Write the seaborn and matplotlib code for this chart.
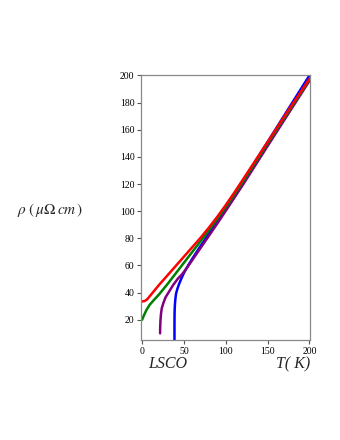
import numpy as np
import pandas as pd
import matplotlib
matplotlib.use("Agg")
import matplotlib.pyplot as plt
import seaborn as sns

# Data
T_red = [0, 3, 6, 10, 20, 30, 40, 50, 60, 70, 80, 90, 100, 110, 125, 150, 175, 200]
rho_red = [33.5, 33.8, 35, 38, 45.5, 52.5, 59.5, 66.5, 73.5, 80.5, 88, 96, 104.5, 113.5, 127.5, 151, 174.5, 197.5]

T_green = [0, 2, 5, 9, 14, 20, 30, 40, 50, 60, 70, 80, 90, 100, 110, 125, 150, 175, 200]
rho_green = [20, 23, 27, 31, 34.5, 38.5, 46, 54, 62, 70, 78, 86, 94.5, 103, 112, 126, 150, 173.5, 197]

T_purple = [21.5, 21.6, 21.9, 22.5, 23.5, 25.5, 28, 32, 37, 43, 47, 50, 55, 60, 70, 80, 90, 100, 120, 150, 200]
rho_purple = [10, 14, 19, 24, 28.5, 32.5, 36.5, 40.5, 45.5, 50.5, 53, 55.3, 59.5, 64, 73, 82, 91, 100.3, 119, 148, 196]

T_blue = [38.7, 38.7, 38.75, 38.9, 39.2, 39.7, 40.5, 42, 44, 47, 50, 55, 60, 70, 80, 100, 150, 200]
rho_blue = [5, 15, 22, 27, 31, 35, 39, 42.5, 46, 50.5, 54.5, 60, 65, 74.5, 83.5, 102, 151, 200]

series = [("blue", T_blue, rho_blue, "#0000ff"),
          ("purple", T_purple, rho_purple, "#800080"),
          ("green", T_green, rho_green, "#008000"),
          ("red", T_red, rho_red, "#ff0000")]

sns.set_style("white")
plt.rcParams['font.family'] = ['Liberation Serif', 'DejaVu Serif']

fig = plt.figure(figsize=(3.4, 4.4), dpi=100)
ax = fig.add_axes([0.416, 0.227, 0.496, 0.603])

for name, T, rho, c in series:
    df = pd.DataFrame({"T": T, "rho": rho})
    sns.lineplot(data=df, x="T", y="rho", ax=ax, color=c, lw=1.8,
                 estimator=None, sort=False)

ax.set_xlim(-0.8, 200.8)
ax.set_ylim(5, 200.5)
ax.set_xticks([0, 50, 100, 150, 200])
ax.set_yticks(list(range(20, 201, 20)))
ax.set_xlabel("")
ax.set_ylabel("")
ax.tick_params(axis="both", direction="out", length=3, width=0.8,
               labelsize=7, pad=2, color="#555555", labelcolor="black",
               bottom=True, left=True)
for s in ax.spines.values():
    s.set_color("#888888")
    s.set_linewidth(0.9)

fig.text(50/340, 1-210/440, r"$\rho\ (\,\mu\Omega\, cm\,)$", ha="center", va="center",
         fontsize=11, math_fontfamily="stix")
fig.text(168/340, 1-364/440, "LSCO", ha="center", va="center",
         fontsize=11.5, style="italic")
fig.text(293/340, 1-364/440, "T( K)", ha="center", va="center",
         fontsize=11.5, style="italic")

fig.savefig("out.png", dpi=100)
